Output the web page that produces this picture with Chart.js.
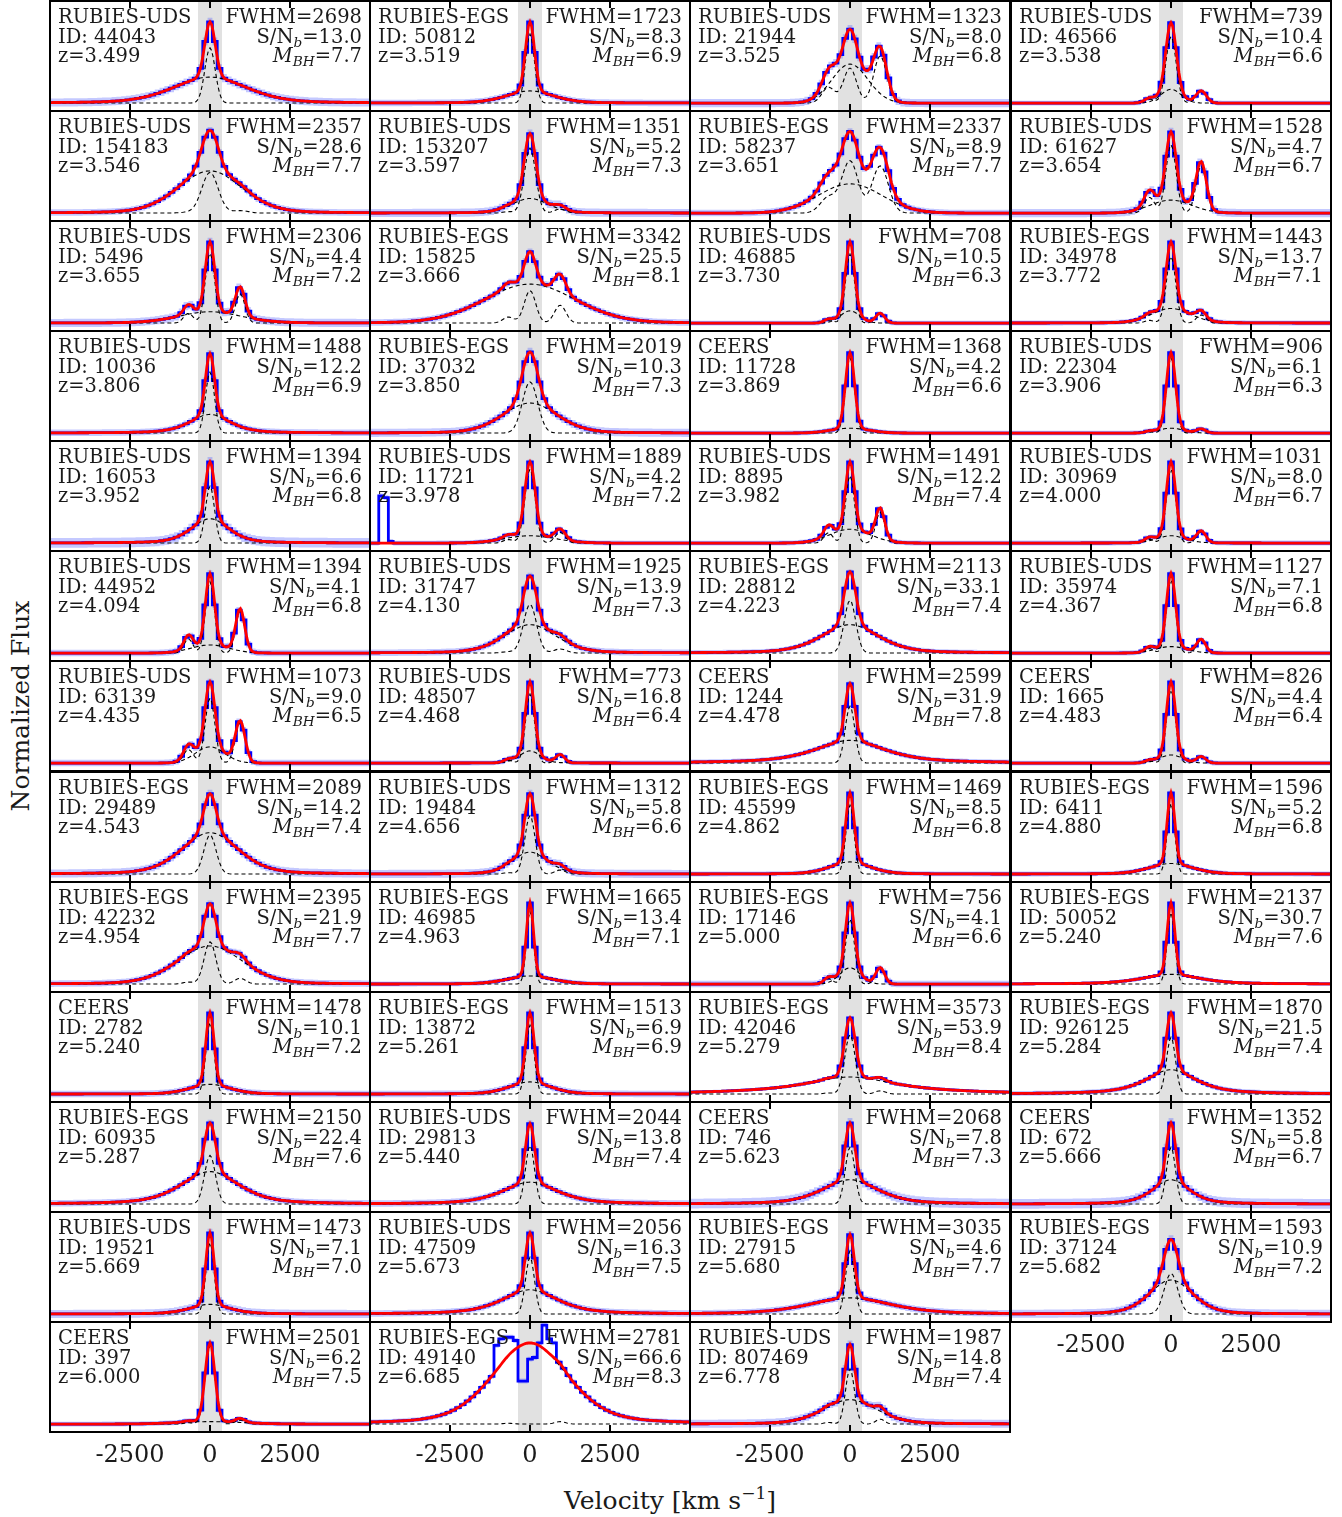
<!DOCTYPE html>
<html>
<head>
<meta charset="utf-8">
<script src="https://cdn.jsdelivr.net/npm/chart.js@4.4.1/dist/chart.umd.min.js"></script>
<style>
  html, body { margin: 0; padding: 0; background: #fff; }
  body { width: 1342px; height: 1517px; position: relative; overflow: hidden; font-family: 'DejaVu Serif', serif; color: #1a1a1a; }
  canvas.pn { position: absolute; }
  .txt { position: absolute; font-size: 19.5px; line-height: 19.5px; white-space: nowrap; z-index: 5; }
  .txt.r { text-align: right; }
  .txt sub { font-size: 70%; vertical-align: -0.28em; line-height: 0; }
  .tick { position: absolute; font-size: 24px; transform: translateX(-50%); white-space: nowrap; }
  .axt { position: absolute; font-size: 25px; white-space: nowrap; }
  .axt sup { font-size: 68%; vertical-align: 0.55em; line-height: 0; }
</style>
</head>
<body>
<script>
// ---- panel labels ----
const surveys = ['RUBIES-UDS','RUBIES-EGS','RUBIES-UDS','RUBIES-UDS',
  'RUBIES-UDS','RUBIES-UDS','RUBIES-EGS','RUBIES-UDS',
  'RUBIES-UDS','RUBIES-EGS','RUBIES-UDS','RUBIES-EGS',
  'RUBIES-UDS','RUBIES-EGS','CEERS','RUBIES-UDS',
  'RUBIES-UDS','RUBIES-UDS','RUBIES-UDS','RUBIES-UDS',
  'RUBIES-UDS','RUBIES-UDS','RUBIES-EGS','RUBIES-UDS',
  'RUBIES-UDS','RUBIES-UDS','CEERS','CEERS',
  'RUBIES-EGS','RUBIES-UDS','RUBIES-EGS','RUBIES-EGS',
  'RUBIES-EGS','RUBIES-EGS','RUBIES-EGS','RUBIES-EGS',
  'CEERS','RUBIES-EGS','RUBIES-EGS','RUBIES-EGS',
  'RUBIES-EGS','RUBIES-UDS','CEERS','CEERS',
  'RUBIES-UDS','RUBIES-UDS','RUBIES-EGS','RUBIES-EGS',
  'CEERS','RUBIES-EGS','RUBIES-UDS'];
const objIds = [44043,50812,21944,46566, 154183,153207,58237,61627, 5496,15825,46885,34978,
  10036,37032,11728,22304, 16053,11721,8895,30969, 44952,31747,28812,35974,
  63139,48507,1244,1665, 29489,19484,45599,6411, 42232,46985,17146,50052,
  2782,13872,42046,926125, 60935,29813,746,672, 19521,47509,27915,37124, 397,49140,807469];
const redshifts = ['3.499','3.519','3.525','3.538','3.546','3.597','3.651','3.654',
  '3.655','3.666','3.730','3.772','3.806','3.850','3.869','3.906',
  '3.952','3.978','3.982','4.000','4.094','4.130','4.223','4.367',
  '4.435','4.468','4.478','4.483','4.543','4.656','4.862','4.880',
  '4.954','4.963','5.000','5.240','5.240','5.261','5.279','5.284',
  '5.287','5.440','5.623','5.666','5.669','5.673','5.680','5.682',
  '6.000','6.685','6.778'];
const fwhmBroad = [2698,1723,1323,739, 2357,1351,2337,1528, 2306,3342,708,1443,
  1488,2019,1368,906, 1394,1889,1491,1031, 1394,1925,2113,1127,
  1073,773,2599,826, 2089,1312,1469,1596, 2395,1665,756,2137,
  1478,1513,3573,1870, 2150,2044,2068,1352, 1473,2056,3035,1593, 2501,2781,1987];
const snrBroad = ['13.0','8.3','8.0','10.4','28.6','5.2','8.9','4.7',
  '4.4','25.5','10.5','13.7','12.2','10.3','4.2','6.1',
  '6.6','4.2','12.2','8.0','4.1','13.9','33.1','7.1',
  '9.0','16.8','31.9','4.4','14.2','5.8','8.5','5.2',
  '21.9','13.4','4.1','30.7','10.1','6.9','53.9','21.5',
  '22.4','13.8','7.8','5.8','7.1','16.3','4.6','10.9',
  '6.2','66.6','14.8'];
const logMbh = ['7.7','6.9','6.8','6.6','7.7','7.3','7.7','6.7',
  '7.2','8.1','6.3','7.1','6.9','7.3','6.6','6.3',
  '6.8','7.2','7.4','6.7','6.8','7.3','7.4','6.8',
  '6.5','6.4','7.8','6.4','7.4','6.6','6.8','6.8',
  '7.7','7.1','6.6','7.6','7.2','6.9','8.4','7.4',
  '7.6','7.4','7.3','6.7','7.0','7.5','7.7','7.2',
  '7.5','8.3','7.4'];

// ---- line-profile components (flux in units of the panel's normalised peak) ----
const narrowAmp  = [.68,.85,.43,.82, .50,.80,.64,.84, .86,.40,.85,.82, .75,.63,.93,.93,
  .70,.91,.83,.91, .88,.60,.65,.90, .80,.85,.70,.90, .48,.72,.85,.87,
  .52,.90,.80,.88, .88,.85,.73,.70, .60,.72,.70,.70, .88,.70,.78,.50, .97,0,.68];
const narrowFwhm = [380,330,480,380, 600,420,600,380, 350,420,330,350, 330,560,330,330,
  330,380,330,340, 330,480,420,330, 360,330,350,330, 450,380,300,280,
  430,260,330,280, 300,300,390,330, 400,330,350,330, 300,330,320,500, 360,400,330];
const broadAmp   = [.32,.15,.48,.17, .52,.18,.36,.16, .14,.48,.15,.18, .23,.37,.06,.06,
  .30,.09,.17,.09, .10,.35,.35,.08, .20,.15,.28,.10, .51,.27,.15,.13,
  .47,.10,.20,.12, .12,.15,.21,.30, .40,.27,.30,.30, .12,.30,.20,.42, .03,1.0,.30];
const broadWing  = [.3,.3,0,0, .2,.3,0,0, .2,.1,0,.2, .5,.2,0,0,
  .4,0,0,.2, 0,.3,.4,0, 0,.2,.7,0, .3,.3,.3,.3,
  .2,.3,0,.6, .3,.3,1,.7, .5,.6,.5,.5, .5,.6,.5,.3, 0,.35,.3];
const niiAmp     = [0,0,.58,.15, .03,.05,.58,.58, .36,.22,.12,.10, 0,0,0,.05,
  0,.13,.38,.14, .52,.05,0,.16, .50,.10,0,.08, 0,.05,0,0,
  .07,0,.20,0, 0,0,.04,0, 0,0,0,0, 0,0,0,0, .05,.03,.06];
const errHalf    = [.05,.04,.05,.03, .04,.05,.04,.05, .05,.04,.03,.03, .04,.05,.03,.03,
  .06,.03,.03,.03, .04,.04,.03,.03, .04,.03,.03,.03, .05,.05,.03,.03,
  .04,.03,.04,.02, .04,.04,.02,.03, .04,.04,.06,.06, .05,.04,.04,.05, .03,.03,.05];

// measured spectrum values that depart from the fit
const spike11721V = [-4650, -4500, -4350];
const spike11721F = [0.58, 0.56, 0.02];
const abs49140V = [-1050, -900, -750, -600, -450, -300, -150, 0, 150, 300, 450, 600, 750];
const abs49140F = [0.97, 1.05, 1.07, 1.07, 1.03, 0.53, 0.53, 0.80, 0.82, 1.00, 1.22, 1.05, 1.00];

const velTicks = [-2500, 0, 2500];

// ---- layout / scale constants ----
const NCOL = 4;
const V_MIN = -5030, V_MAX = 5030;
const F_MIN = -0.11, F_MAX = 1.27;
const BIN = 150;
const NII_R = 943, NII_B = -674;
const CORE = 380;
const PW = 322, PH = 112;

function gauss(v, c, w) { const d = (v - c) / w; return Math.exp(-4 * Math.LN2 * d * d); }
function lorentz(v, c, w) { const d = (v - c) / w; return 1 / (1 + 4 * d * d); }
function broadComp(i, v) {
  const m = broadWing[i], w = fwhmBroad[i];
  return broadAmp[i] * ((1 - m) * gauss(v, 0, w) + m * lorentz(v, 0, w));
}
function narrowComp(i, v) {
  const w = narrowFwhm[i];
  return narrowAmp[i] * gauss(v, 0, w) + niiAmp[i] * gauss(v, NII_R, w) + niiAmp[i] / 3 * gauss(v, NII_B, w);
}

const framePlugin = {
  id: 'frame',
  afterDraw(chart) {
    const { ctx, chartArea: a, scales } = chart;
    ctx.save();
    ctx.strokeStyle = '#000';
    ctx.lineWidth = 2;
    ctx.strokeRect(a.left + 1, a.top + 1, a.right - a.left - 2, a.bottom - a.top - 2);
    velTicks.forEach(v => {
      const px = Math.round(scales.x.getPixelForValue(v));
      ctx.beginPath();
      ctx.moveTo(px, a.top); ctx.lineTo(px, a.top + 8);
      ctx.moveTo(px, a.bottom); ctx.lineTo(px, a.bottom - 8);
      ctx.stroke();
    });
    ctx.restore();
  }
};

function overrides(i) {
  if (objIds[i] === 11721) return [spike11721V, spike11721F];
  if (objIds[i] === 49140) return [abs49140V, abs49140F];
  return null;
}

const nPanels = surveys.length;

for (let i = 0; i < nPanels; i++) {
  const col = i % NCOL, row = Math.floor(i / NCOL);
  const left = Math.round(49 + col * 320.2);
  const top = Math.round(row * 110.08);

  const cv = document.createElement('canvas');
  cv.className = 'pn';
  cv.width = PW; cv.height = PH;
  cv.style.left = left + 'px'; cv.style.top = top + 'px';
  cv.style.width = PW + 'px'; cv.style.height = PH + 'px';
  document.body.appendChild(cv);

  // fit and components
  const model = [], broad = [], narrow = [];
  for (let v = -5100; v <= 5100; v += 50) {
    const b = broadComp(i, v), n = narrowComp(i, v);
    model.push({ x: v, y: b + n });
    broad.push({ x: v, y: b });
    narrow.push({ x: v, y: n });
  }
  // binned spectrum
  const ov = overrides(i);
  const spec = [], hi = [], lo = [];
  for (let v = -5100; v <= 5100; v += BIN) {
    let f = broadComp(i, v) + narrowComp(i, v);
    if (ov) {
      const k = ov[0].findIndex(c => Math.abs(c - v) < BIN / 2);
      if (k >= 0) f = ov[1][k];
    }
    spec.push({ x: v, y: f });
    hi.push({ x: v, y: f + errHalf[i] });
    lo.push({ x: v, y: f - errHalf[i] });
  }
  const hasNarrow = narrowAmp[i] > 0 || niiAmp[i] > 0;

  const datasets = [
    { data: [{ x: -CORE, y: F_MAX }, { x: CORE, y: F_MAX }], fill: 'start', backgroundColor: '#e1e1e1',
      borderWidth: 0, pointRadius: 0, order: 9 },
    { data: hi, stepped: 'middle', borderWidth: 0, pointRadius: 0, fill: false, order: 8 },
    { data: lo, stepped: 'middle', borderWidth: 0, pointRadius: 0, fill: '-1',
      backgroundColor: 'rgba(100,112,255,0.38)', order: 8 },
    { data: spec, stepped: 'middle', borderColor: '#0000ff', borderWidth: 2.8, pointRadius: 0, fill: false, order: 6 },
    { data: broad, borderColor: '#000', borderWidth: 1.1, borderDash: [4, 3], pointRadius: 0, fill: false, order: 3 },
    { data: hasNarrow ? narrow : [], borderColor: '#000', borderWidth: 1.1, borderDash: [4, 3], pointRadius: 0, fill: false, order: 3 },
    { data: model, borderColor: '#ff0000', borderWidth: 2.8, pointRadius: 0, fill: false, order: 1 }
  ];

  const chart = new Chart(cv.getContext('2d'), {
    type: 'line',
    data: { datasets },
    options: {
      responsive: false, animation: false, devicePixelRatio: 1, events: [],
      layout: { padding: 0 },
      elements: { line: { tension: 0 } },
      plugins: { legend: { display: false }, tooltip: { enabled: false } },
      scales: {
        x: { type: 'linear', min: V_MIN, max: V_MAX, display: false },
        y: { type: 'linear', min: F_MIN, max: F_MAX, display: false }
      }
    },
    plugins: [framePlugin]
  });

  // text blocks
  const tl = document.createElement('div');
  tl.className = 'txt';
  tl.style.left = (left + 9) + 'px'; tl.style.top = (top + 7) + 'px';
  tl.innerHTML = surveys[i] + '<br>ID: ' + objIds[i] + '<br>z=' + redshifts[i];
  document.body.appendChild(tl);

  const tr = document.createElement('div');
  tr.className = 'txt r';
  tr.style.right = (1342 - (left + PW - 9)) + 'px'; tr.style.top = (top + 7) + 'px';
  tr.innerHTML = 'FWHM=' + fwhmBroad[i] + '<br>S/N<sub><i>b</i></sub>=' + snrBroad[i] +
    '<br><i>M</i><sub><i>BH</i></sub>=' + logMbh[i];
  document.body.appendChild(tr);

  // tick labels under the lowest panel of each column
  if (i + NCOL >= nPanels) {
    velTicks.forEach(v => {
      const t = document.createElement('div');
      t.className = 'tick';
      t.style.left = (left + chart.scales.x.getPixelForValue(v)) + 'px';
      t.style.top = (top + PH + 7) + 'px';
      t.textContent = String(v);
      document.body.appendChild(t);
    });
  }
}

// axis titles
const yt = document.createElement('div');
yt.className = 'axt';
yt.textContent = 'Normalized Flux';
yt.style.left = '20px'; yt.style.top = '706px';
yt.style.transform = 'translate(-50%,-50%) rotate(-90deg)';
document.body.appendChild(yt);

const xt = document.createElement('div');
xt.className = 'axt';
xt.innerHTML = 'Velocity [km s<sup>\u22121</sup>]';
xt.style.left = '670px'; xt.style.top = '1500px';
xt.style.transform = 'translate(-50%,-50%)';
document.body.appendChild(xt);
</script>
</body>
</html>
